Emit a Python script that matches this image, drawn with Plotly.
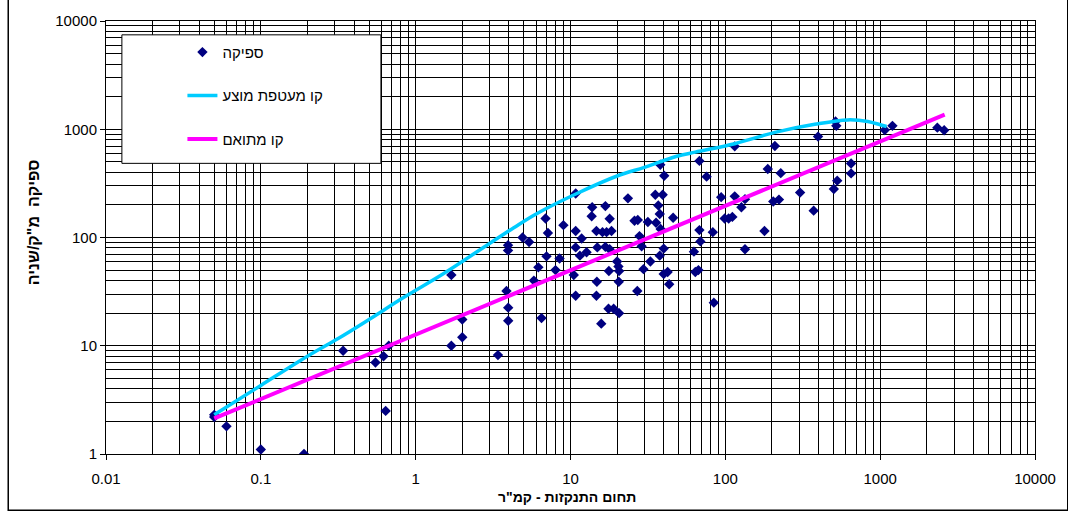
import plotly.graph_objects as go

# ---- data ----
pts_x = [0.05, 0.05, 0.06, 0.1, 0.19, 0.34, 0.55, 0.62, 0.67, 0.64,
         1.7, 2.0, 2.0, 1.7, 3.4,
         3.95, 3.95, 3.86, 3.96, 3.96,
         4.9, 5.4, 6.5, 5.8, 6.2, 6.9, 7.15, 7.0, 8.0, 8.5, 9.0,
         10.8, 10.8, 11.8, 10.8, 11.5, 12.7, 10.5, 10.8,
         13.8, 13.7, 16.8, 17.9, 14.7, 16.1, 17.1, 18.4,
         14.9, 16.8, 17.9, 20, 17.7, 20.6, 20.4, 14.8, 20.5, 14.7,
         17.6, 19, 20.6, 15.8,
         23.5, 25.9, 27.2, 27,
         38, 40.3, 35.3, 39.4, 36.9, 37.7, 31.6, 35.7, 46, 38.2,
         27.9, 28.8, 40, 37.7, 32.8, 29.6, 40, 42.4, 43.4,
         68, 75.7, 68, 83, 69, 62.7, 64, 67, 84.3,
         94, 115, 127, 134, 115, 99, 105, 111, 134, 179,
         209, 188, 228, 204, 222, 304, 372, 397,
         515, 521, 502, 528, 649, 649, 1071, 1200, 2340, 2590]
pts_y = [2.3, 2.2, 1.8, 1.1, 1.0, 9, 7, 8, 10, 2.5,
         45, 17.5, 12, 10, 8.2,
         85, 76, 32, 22.5, 17,
         100, 91, 18, 40, 53, 150, 110, 67, 50, 64, 130,
         255, 115, 98, 81, 68, 73, 45, 29,
         190, 157, 195, 149, 115, 112, 112, 115,
         81, 82, 78, 60, 49, 49, 54, 39, 39, 29,
         22, 22, 20, 16,
         230, 143, 145, 32,
         470, 372, 248, 248, 198, 165, 139, 137, 152, 120,
         103, 83, 79, 68, 60, 51, 46, 48, 37,
         510, 365, 117, 112, 92, 74, 48, 50, 25,
         236, 240, 190, 226, 695, 150, 150, 155, 78, 115,
         700, 430, 393, 215, 224, 260, 177, 855,
         1180, 1075, 281, 335, 482, 391, 985, 1075, 1035, 980]

env_x = [0.05, 0.1, 0.2, 0.32, 0.5, 0.85, 1.5, 3.0, 4.3, 6, 11, 20, 30, 48, 64,
         115, 209, 378, 617, 832, 1000, 1100]
env_y = [2.3, 4.3, 8.0, 11.8, 17.5, 28.3, 46, 88, 123, 165, 255, 370, 445, 560, 615,
         735, 935, 1110, 1220, 1180, 1100, 1060]

fit_x = [0.05, 2610]
fit_y = [2.13, 1365]

x_tickvals = [0.01, 0.1, 1, 10, 100, 1000, 10000]
x_ticktext = ["0.01", "0.1", "1", "10", "100", "1000", "10000"]
y_tickvals = [1, 10, 100, 1000, 10000]
y_ticktext = ["1", "10", "100", "1000", "10000"]

name_pts = "ספיקה"
name_env = "קו מעטפת מוצע"
name_fit = "קו מתואם"
x_title = "תחום התנקזות - קמ\"ר"
y_title = "ספיקה  מ\"ק/שניה"

FONT = "Arial, 'Liberation Sans', sans-serif"

x_minor = [k * 10 ** n for n in range(-2, 4) for k in range(2, 10)]
y_minor = [k * 10 ** n for n in range(0, 4) for k in range(2, 10)]

fig = go.Figure()
fig.add_trace(go.Scatter(x=pts_x, y=pts_y, mode="markers", name=name_pts,
                         legendgroup="a",
                         marker=dict(symbol="diamond", size=8, color="#000080",
                                     line=dict(width=0))))
fig.add_trace(go.Scatter(x=env_x, y=env_y, mode="lines", name=name_env,
                         legendgroup="b", line_shape="spline",
                         line=dict(color="#00CCFF", width=3.5)))
fig.add_trace(go.Scatter(x=fit_x, y=fit_y, mode="lines", name=name_fit,
                         legendgroup="c",
                         line=dict(color="#FF00FF", width=4)))

W, H = 1068, 516
L, R, T, B = 106, 26, 16, 62
pw, ph = W - L - R, H - T - B


def px_x(p):
    return (p - L) / pw


def px_y(p):
    return (H - B - p) / ph


axis_common = dict(
    type="log", showline=True, mirror=True, linecolor="black", linewidth=1,
    showgrid=True, gridcolor="black", gridwidth=1, zeroline=False,
    ticks="outside", ticklen=5, tickcolor="black",
    tickfont=dict(family=FONT, size=15, color="black"),
)

fig.update_layout(
    width=W, height=H,
    margin=dict(l=L, r=R, t=T, b=B),
    paper_bgcolor="white", plot_bgcolor="white",
    font=dict(family=FONT, size=14, color="black"),
    xaxis=dict(range=[-2, 4], tickmode="array", tickvals=x_tickvals,
               ticktext=x_ticktext, ticklabelstandoff=6,
               minor=dict(tickmode="array", tickvals=x_minor, showgrid=True,
                          gridcolor="black", gridwidth=1, ticks=""),
               **axis_common),
    yaxis=dict(range=[0, 4], tickmode="array", tickvals=y_tickvals,
               ticktext=y_ticktext,
               minor=dict(tickmode="array", tickvals=y_minor, showgrid=True,
                          gridcolor="black", gridwidth=1, ticks=""),
               **axis_common),
    showlegend=True,
    legend=dict(x=px_x(183), y=px_y(31), xanchor="left", yanchor="top",
                bgcolor="rgba(0,0,0,0)", borderwidth=0, tracegroupgap=21,
                font=dict(family=FONT, size=15, color="black")),
    shapes=[
        dict(type="rect", xref="paper", yref="paper", layer="above",
             x0=px_x(122), x1=px_x(383), y0=px_y(160), y1=px_y(30),
             fillcolor="white", line=dict(color="black", width=1)),
        dict(type="rect", xref="paper", yref="paper", layer="below",
             x0=px_x(7.5), x1=px_x(1075), y0=px_y(511), y1=px_y(-10),
             fillcolor="rgba(0,0,0,0)", line=dict(color="black", width=1.5)),
    ],
    annotations=[
        dict(text=x_title, xref="paper", yref="paper", x=px_x(570), y=px_y(498),
             xanchor="center", yanchor="middle", showarrow=False,
             font=dict(family=FONT, size=14, color="black", weight="bold")),
        dict(text=y_title, xref="paper", yref="paper", x=px_x(33), y=px_y(220),
             xanchor="center", yanchor="middle", showarrow=False, textangle=-90,
             font=dict(family=FONT, size=16, color="black", weight="bold")),
    ],
)

fig.write_html("out.html")
